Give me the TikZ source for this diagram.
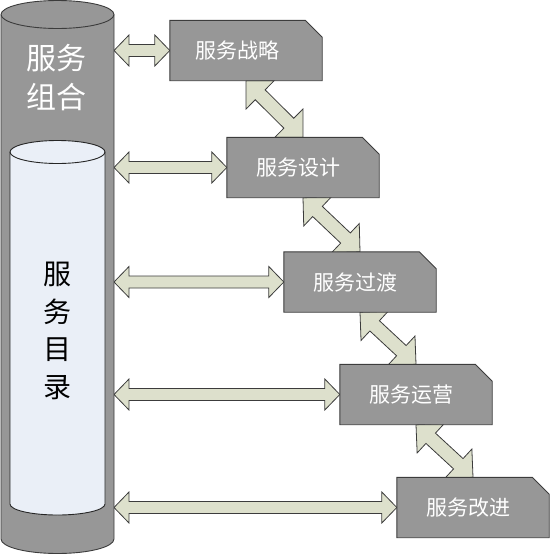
\documentclass[tikz,border=0pt]{standalone}
\usepackage{fontspec}
\newfontfamily\cjk{Noto Sans CJK SC}
\usetikzlibrary{calc,backgrounds}
\pgfdeclarelayer{arrowlayer}
\pgfsetlayers{arrowlayer,background,main}
\definecolor{boxgray}{RGB}{151,151,151}
\definecolor{edgecol}{RGB}{60,60,60}
\definecolor{arrfill}{RGB}{221,224,204}
\definecolor{innerfill}{RGB}{234,239,247}
\tikzset{
  stagebox/.style={rectangle, minimum width=152pt, minimum height=60pt, inner sep=0pt, text=white,
    font=\cjk\fontsize{21}{21}\selectfont},
  boxshape/.style={draw=edgecol, line width=0.9pt, fill=boxgray, line join=miter},
  blockarrow/.style={draw=edgecol, line width=0.8pt, fill=arrfill, line join=miter},
  cylbody/.style={draw=edgecol, line width=0.9pt, fill=boxgray},
  cylinner/.style={draw=black!85, line width=0.9pt, fill=innerfill},
}
\newcommand\dblarr[5]{%
  \path ($(#1)!#3!(#2)$) coordinate (h1) ($(#2)!#3!(#1)$) coordinate (h2);
  \draw[blockarrow] (#1) -- ($(h1)!#4!90:(#2)$) -- ($(h1)!#5!90:(#2)$)
    -- ($(h2)!#5!-90:(#1)$) -- ($(h2)!#4!-90:(#1)$) -- (#2)
    -- ($(h2)!#4!90:(#1)$) -- ($(h2)!#5!90:(#1)$)
    -- ($(h1)!#5!-90:(#2)$) -- ($(h1)!#4!-90:(#2)$) -- cycle;}
\newcommand\cutbox[1]{%
  \draw[boxshape] (#1.south west) -- (#1.north west) -- ($(#1.north east)+(-17,0)$)
    -- ($(#1.north east)+(0,17)$) -- (#1.south east) -- cycle;}
\begin{document}
\begin{tikzpicture}[x=1pt,y=-1pt]
\useasboundingbox (0,0) rectangle (549,554);
% outer cylinder
\filldraw[cylbody] (1,14.5) -- (1,539) arc[start angle=180,end angle=360,x radius=56.5pt,y radius=14.5pt]
  -- (114,14.5) arc[start angle=0,end angle=180,x radius=56.5pt,y radius=14pt] -- cycle;
\draw[draw=edgecol, line width=0.9pt] (1,14.5) arc[start angle=180,end angle=360,x radius=56.5pt,y radius=14pt];
% inner cylinder
\filldraw[cylinner] (10,152) -- (10,504) arc[start angle=180,end angle=360,x radius=47.5pt,y radius=11pt]
  -- (105,152) arc[start angle=0,end angle=180,x radius=47.5pt,y radius=11.5pt] -- cycle;
\draw[draw=black!85, line width=0.9pt] (10,152) arc[start angle=180,end angle=360,x radius=47.5pt,y radius=11.5pt];
\coordinate (cylE) at (114,0);
% texts on cylinder
\node[font=\cjk\fontsize{30}{39}\selectfont, text=white, align=center, inner sep=0pt] (grp) at (57,78) {服务\\组合};
\node[font=\cjk\fontsize{28}{37.7}\selectfont, text=black, align=center, inner sep=0pt] (cat) at (57,331) {服\\务\\目\\录};
% stage boxes
\node[stagebox] (b1) at (246,50.5) {服务战略\kern18pt};
\node[stagebox] (b2) at (303,167.5) {服务设计\kern9pt};
\node[stagebox] (b3) at (360,282) {服务过渡\kern9pt};
\node[stagebox] (b4) at (416,394.5) {服务运营\kern10pt};
\node[stagebox] (b5) at (473,507.5) {服务改进\kern9pt};
\foreach \i in {1,...,5} {\coordinate (a\i) at (cylE |- b\i.west);}
\begin{pgfonlayer}{background}
  \foreach \i in {1,...,5} {\cutbox{b\i}}
\end{pgfonlayer}
\begin{pgfonlayer}{arrowlayer}
  \foreach \i in {1,...,5} {\dblarr{a\i}{b\i.west}{15pt}{15.5pt}{6pt}}
  \dblarr{b1.south}{b2.north}{20pt}{20pt}{7pt}
  \dblarr{b2.south}{b3.north}{20pt}{20pt}{7pt}
  \dblarr{b3.south}{b4.north}{20pt}{20pt}{7pt}
  \dblarr{b4.south}{b5.north}{20pt}{20pt}{7pt}
\end{pgfonlayer}
\end{tikzpicture}
\end{document}
